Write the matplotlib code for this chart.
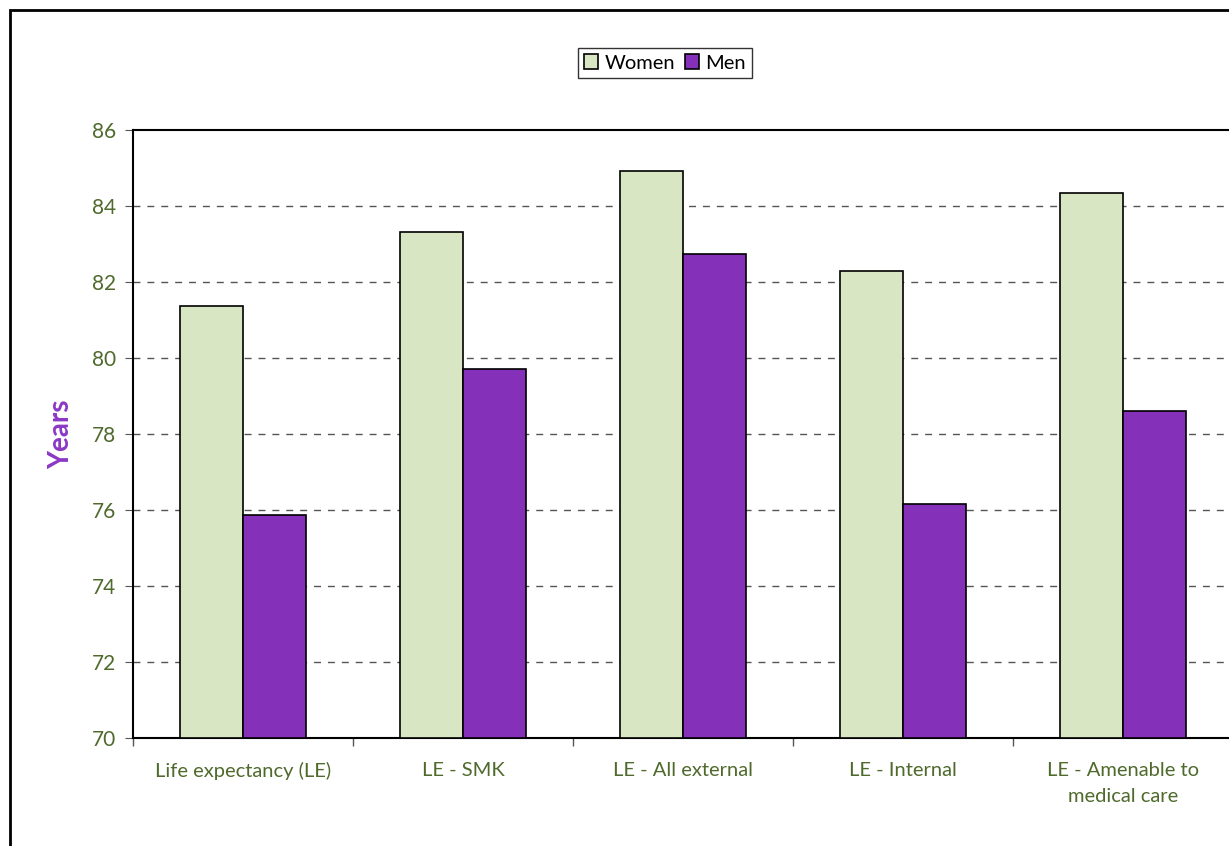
import numpy as np
import matplotlib.pyplot as plt
from matplotlib.patches import Rectangle

categories = ['Life expectancy (LE)', 'LE - SMK', 'LE - All external', 'LE - Internal',
              'LE - Amenable to\nmedical care']
women = [81.37, 83.32, 84.92, 82.29, 84.34]
men = [75.87, 79.71, 82.74, 76.16, 78.60]

green_txt = '#4f6a2c'
plt.rcParams['font.family'] = ['Lato', 'DejaVu Sans']

fig = plt.figure(figsize=(12.29, 8.46), dpi=100)
ax = fig.add_axes([133 / 1229, 108 / 846, 1100 / 1229, 608 / 846])

x = np.arange(len(categories))
w = 0.286
ax.bar(x - w / 2, [v - 70 for v in women], w, bottom=70, color='#d9e6c3',
       edgecolor='black', linewidth=1.2, label='Women', zorder=3)
ax.bar(x + w / 2, [v - 70 for v in men], w, bottom=70, color='#8530b9',
       edgecolor='black', linewidth=1.2, label='Men', zorder=3)

ax.set_xlim(-0.5, len(categories) - 0.5)
ax.set_ylim(70, 86)
ax.set_yticks(np.arange(70, 87, 2))
ax.set_xticks(x)
ax.set_xticklabels(categories, color=green_txt, fontsize=14.5, linespacing=1.7)
ax.set_xticks(np.arange(-0.5, len(categories), 1), minor=True)
ax.tick_params(axis='x', which='major', length=0, pad=17)
ax.tick_params(axis='x', which='minor', length=6, color='#555555', width=1)
ax.tick_params(axis='y', length=6, color='#555555', labelsize=15, labelcolor=green_txt, pad=6)
for gy in np.arange(72, 86, 2):
    ax.axhline(gy, color='#555555', linestyle=(0, (5, 5)), linewidth=1, zorder=1)
for s in ['left', 'top', 'bottom', 'right']:
    ax.spines[s].set_linewidth(1.5)
ax.set_ylabel('Years', color='#8b38c6', fontsize=20, fontweight='bold', labelpad=13)

leg = fig.legend(loc='center', bbox_to_anchor=(665 / 1229, 1 - 63 / 846), ncol=2,
                 fontsize=14.5, frameon=True, fancybox=False, edgecolor='black',
                 handlelength=0.7, handleheight=0.7, handletextpad=0.3,
                 columnspacing=0.5, borderpad=0.3, borderaxespad=0)
leg.get_frame().set_linewidth(1)

fig.patches.append(Rectangle((10 / 1229, -0.1), 1.2, (836 / 846) + 0.1,
                             transform=fig.transFigure, fill=False,
                             edgecolor='black', linewidth=2))

fig.savefig('out.png', dpi=100)
